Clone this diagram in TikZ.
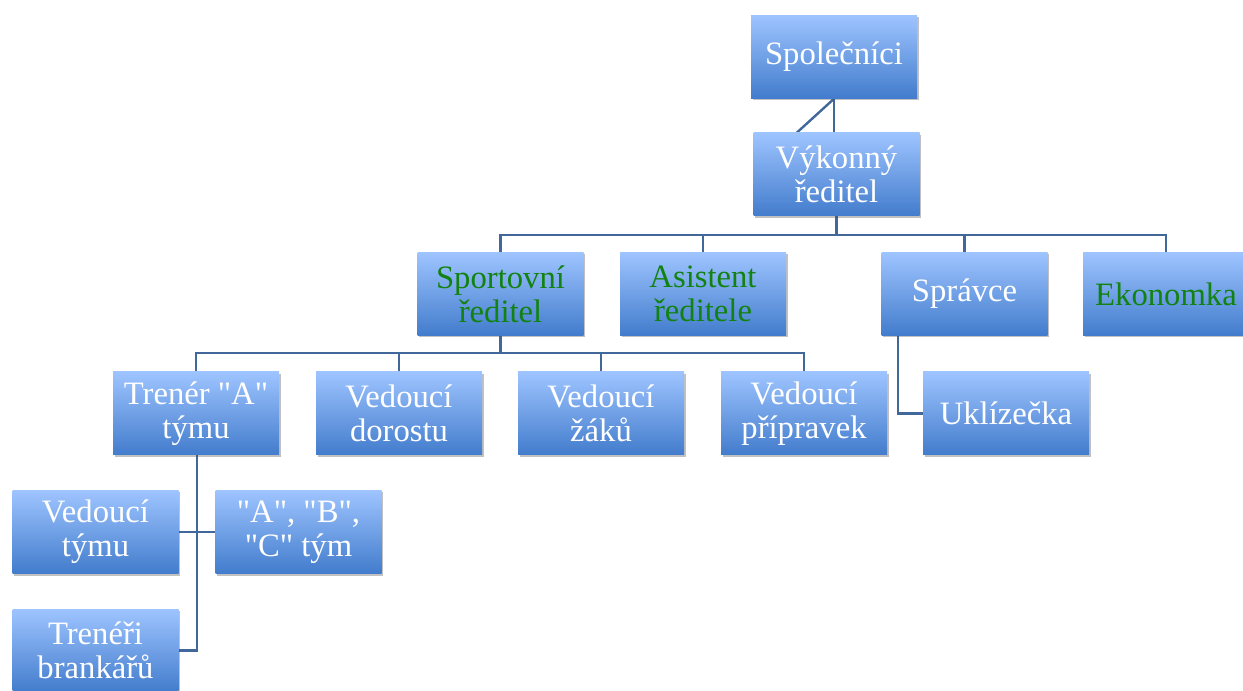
\documentclass[tikz,border=0pt]{standalone}
\usepackage{fontspec}
\setmainfont{Liberation Serif}[Ligatures=TeXOff]
\usetikzlibrary{shadows,backgrounds}
\definecolor{boxtop}{RGB}{158,196,255}
\definecolor{boxbot}{RGB}{66,124,204}
\definecolor{linkc}{RGB}{66,104,155}
\definecolor{greentxt}{RGB}{18,130,18}
\tikzset{
  orgbox/.style={rectangle, minimum width=124.5pt, minimum height=62.25pt,
    top color=boxtop, bottom color=boxbot, draw=none, align=center,
    text=white, font=\fontsize{24.5}{25.5}\selectfont, inner sep=0pt,
    drop shadow={shadow xshift=1.2pt, shadow yshift=-1.5pt, opacity=0.35, fill=black!70}},
  greenbox/.style={orgbox, text=greentxt},
  link/.style={draw=linkc, line width=1.8pt}
}
\begin{document}
\begin{tikzpicture}[x=0.75pt,y=-0.75pt]
\useasboundingbox (0,0) rectangle (1243,691);
\clip (0,0) rectangle (1243,691);

% boxes
\node[orgbox] (spol) at (834,57) {Společníci};
\node[orgbox] (vyk) at (836.5,174.5) {Výkonný\\ředitel};
\node[greenbox] (sport) at (500.5,294) {Sportovní\\ředitel};
\node[greenbox] (asist) at (703,294) {Asistent\\ředitele};
\node[orgbox] (sprav) at (964.5,294) {Správce};
\node[greenbox] (ekon) at (1166,294) {Ekonomka};
\node[orgbox] (trener) at (196,413.5) {Trenér "A"\\týmu};
\node[orgbox] (dorost) at (399,413.5) {Vedoucí\\dorostu};
\node[orgbox] (zaci) at (601,413.5) {Vedoucí\\žáků};
\node[orgbox] (prip) at (804,413.5) {Vedoucí\\přípravek};
\node[orgbox] (uklid) at (1006,413.5) {Uklízečka};
\node[orgbox] (vedt) at (95.5,532) {Vedoucí\\týmu};
\node[orgbox] (abc) at (298.5,532) {"A", "B",\\"C" tým};
\node[orgbox] (brank) at (95.5,650.5) {Trenéři\\brankářů};

% connectors, kept behind the boxes
\begin{scope}[on background layer]
  \coordinate (asst) at (780,148);
  \draw[link] (spol.south) -- (asst);
  \draw[link] (spol.south) -- (spol.south |- vyk.north);
  \coordinate (bus1) at (836.5,235);
  \draw[link] (vyk.south) -- (bus1);
  \draw[link] (sport.north) |- (bus1) -| (ekon.north);
  \draw[link] (asist.north) -- (asist.north |- bus1);
  \draw[link] (sprav.north) -- (sprav.north |- bus1);
  \coordinate (bus2) at (500.5,353);
  \draw[link] (sport.south) -- (bus2);
  \draw[link] (trener.north) |- (bus2) -| (prip.north);
  \draw[link] (dorost.north) -- (dorost.north |- bus2);
  \draw[link] (zaci.north) -- (zaci.north |- bus2);
  \coordinate (sprdrop) at (898,335);
  \draw[link] (sprdrop) |- (uklid.west);
  \coordinate (trdrop) at (197,455);
  \draw[link] (trdrop) |- (brank.east);
  \draw[link] (vedt.east) -- (abc.west);
\end{scope}
\end{tikzpicture}
\end{document}
